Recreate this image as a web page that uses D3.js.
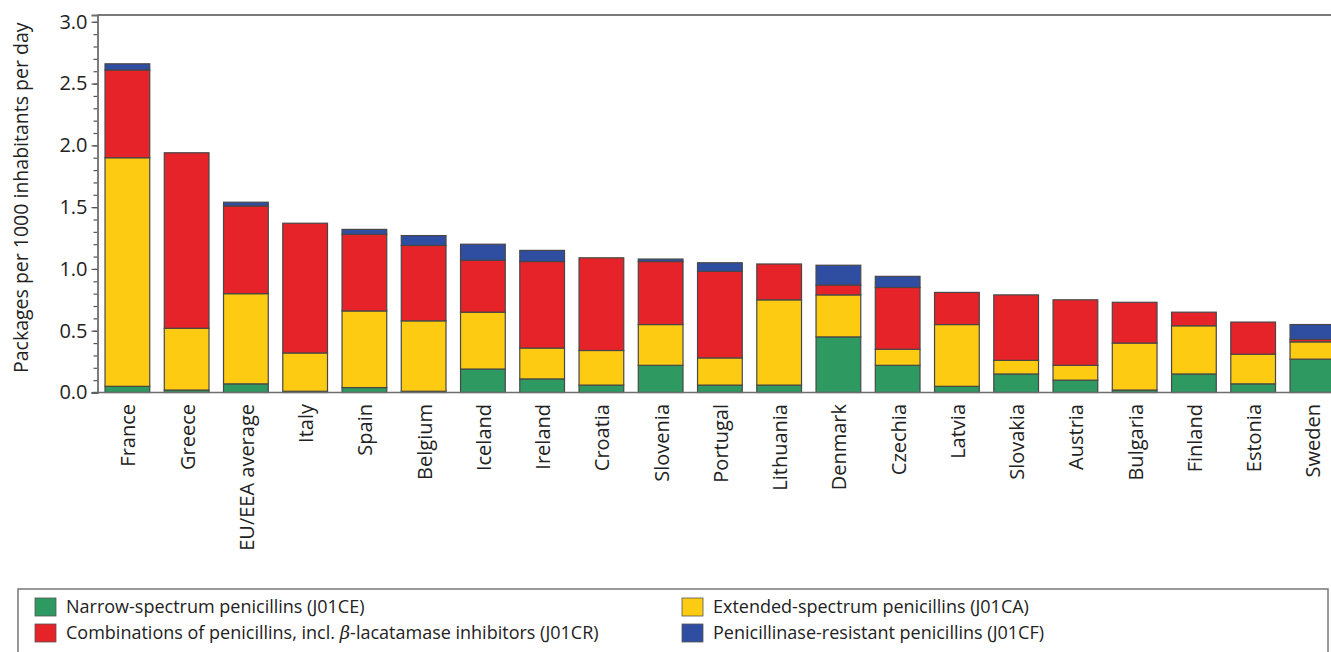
<!DOCTYPE html>
<html>
<head>
<meta charset="utf-8">
<script src="https://cdn.jsdelivr.net/npm/d3@7"></script>
<style>
  html, body { margin: 0; padding: 0; background: #fff; overflow: hidden; }
  text { font-family: "Open Sans", "Noto Sans", sans-serif; fill: #222; }
</style>
</head>
<body>
<svg id="chart" width="1331" height="652"></svg>
<script>
const categories = ["France","Greece","EU/EEA average","Italy","Spain","Belgium","Iceland","Ireland","Croatia","Slovenia","Portugal","Lithuania","Denmark","Czechia","Latvia","Slovakia","Austria","Bulgaria","Finland","Estonia","Sweden"];
const narrowJ01CE   = [0.05,0.02,0.07,0.01,0.04,0.01,0.19,0.11,0.06,0.22,0.06,0.06,0.45,0.22,0.05,0.15,0.10,0.02,0.15,0.07,0.27];
const extendedJ01CA = [1.85,0.50,0.73,0.31,0.62,0.57,0.46,0.25,0.28,0.33,0.22,0.69,0.34,0.13,0.50,0.11,0.12,0.38,0.39,0.24,0.14];
const combosJ01CR   = [0.71,1.42,0.71,1.05,0.62,0.61,0.42,0.70,0.75,0.51,0.70,0.29,0.08,0.50,0.26,0.53,0.53,0.33,0.11,0.26,0.02];
const resistJ01CF   = [0.05,0.00,0.03,0.00,0.04,0.08,0.13,0.09,0.00,0.02,0.07,0.00,0.16,0.09,0.00,0.00,0.00,0.00,0.00,0.00,0.12];
const majorTicks = [0, 0.5, 1.0, 1.5, 2.0, 2.5, 3.0];
const minorTicks = d3.range(0, 31).map(i => i / 10);
const seriesNames = [
  "Narrow-spectrum penicillins (J01CE)",
  "Extended-spectrum penicillins (J01CA)",
  "Combinations of penicillins, incl. β-lacatamase inhibitors (J01CR)",
  "Penicillinase-resistant penicillins (J01CF)"
];
const seriesKeys = ["J01CE","J01CA","J01CR","J01CF"];
const seriesColors = ["#2e9a62","#fccb12","#e62329","#2f4ea1"];
const yTitle = "Packages per 1000 inhabitants per day";

const rows = categories.map((c, i) => ({
  country: c,
  J01CE: narrowJ01CE[i], J01CA: extendedJ01CA[i], J01CR: combosJ01CR[i], J01CF: resistJ01CF[i]
}));

const svg = d3.select("#chart");
const plotL = 97.5, plotR = 1342.3, plotT = 15, plotB = 392.5;

const x = d3.scaleBand().domain(categories).range([plotL, plotR]).paddingInner(0.245).paddingOuter(0.127);
const y = d3.scaleLinear().domain([0, 3.055]).range([plotB, plotT]);

const stacked = d3.stack().keys(seriesKeys)(rows);

// bars
const g = svg.append("g");
stacked.forEach((layer, li) => {
  g.selectAll(null).data(layer.filter(d => d[1] - d[0] > 0)).enter().append("rect")
    .attr("x", d => x(d.data.country))
    .attr("width", x.bandwidth())
    .attr("y", d => y(d[1]))
    .attr("height", d => y(d[0]) - y(d[1]))
    .attr("fill", seriesColors[li])
    .attr("stroke", "#474747")
    .attr("stroke-width", 1.2);
});

// frame: top line
svg.append("line").attr("x1", plotL).attr("x2", 1331).attr("y1", y(3.055)).attr("y2", y(3.055))
  .attr("stroke", "#7a7a7a").attr("stroke-width", 2);
// baseline
svg.append("line").attr("x1", plotL - 5).attr("x2", 1331).attr("y1", y(0)).attr("y2", y(0))
  .attr("stroke", "#6e6e6e").attr("stroke-width", 1.5);

// y axis minor
const yMinor = svg.append("g").attr("transform", `translate(${plotL},0)`)
  .call(d3.axisLeft(y).tickValues(minorTicks).tickSize(4).tickFormat(""));
yMinor.select(".domain").remove();
yMinor.selectAll("line").attr("stroke", "#555").attr("stroke-width", 1.2);

const yAxis = svg.append("g").attr("transform", `translate(${plotL},0)`)
  .call(d3.axisLeft(y).tickValues(majorTicks).tickSize(6).tickPadding(4).tickFormat(d3.format(".1f")));
yAxis.select(".domain").attr("stroke", "#6e6e6e").attr("stroke-width", 1.8);
yAxis.selectAll("line").attr("stroke", "#555").attr("stroke-width", 1.2);
yAxis.selectAll("text").style("font-size", "20px").attr("fill", "#222");

// y title
svg.append("text")
  .attr("transform", `translate(28,${(y(0) + y(3.055)) / 2 - 6}) rotate(-90)`)
  .attr("text-anchor", "middle")
  .style("font-size", "19.5px")
  .text(yTitle);

// x labels
svg.append("g").selectAll("text").data(categories).enter().append("text")
  .attr("transform", d => `translate(${x(d) + x.bandwidth() / 2 + 1},404) rotate(-90)`)
  .attr("text-anchor", "end")
  .attr("dy", "0.35em")
  .style("font-size", "20px")
  .text(d => d);

// legend
svg.append("rect").attr("x", 18).attr("y", 589).attr("width", 1310).attr("height", 80)
  .attr("fill", "none").attr("stroke", "#777").attr("stroke-width", 1.5);
const legendPos = [
  {x: 35, y: 598}, {x: 682, y: 598}, {x: 35, y: 624}, {x: 682, y: 624}
];
seriesNames.forEach((name, i) => {
  const p = legendPos[i];
  svg.append("rect").attr("x", p.x).attr("y", p.y).attr("width", 21).attr("height", 18)
    .attr("fill", seriesColors[i]).attr("stroke", "#555").attr("stroke-width", 0.8);
  const t = svg.append("text").attr("x", p.x + 31).attr("y", p.y + 9).attr("dy", "0.35em")
    .style("font-size", "18px");
  if (name.includes("β")) {
    const parts = name.split("β");
    t.append("tspan").text(parts[0]);
    t.append("tspan").style("font-style", "italic").style("font-family", "DejaVu Serif").text("β");
    t.append("tspan").text(parts[1]);
  } else {
    t.text(name);
  }
});
</script>
</body>
</html>
